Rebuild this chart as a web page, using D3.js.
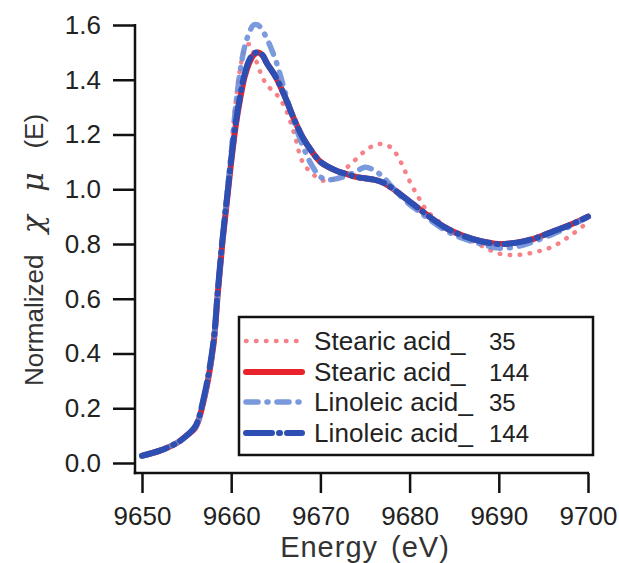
<!DOCTYPE html>
<html>
<head>
<meta charset="utf-8">
<script src="https://cdn.jsdelivr.net/npm/d3@7"></script>
<style>
  html, body { margin: 0; padding: 0; background: #fff; }
  svg { display: block; font-family: "Liberation Sans", Arial, sans-serif; }
</style>
</head>
<body>
<div id="chart"></div>
<script>
// energy grid (eV) shared by all four spectra
var energy = [9650, 9652, 9654, 9655, 9656, 9657, 9658, 9658.5, 9659, 9659.5,
  9660, 9660.5, 9661, 9661.5, 9662, 9662.5, 9663, 9663.5, 9664, 9665,
  9666, 9667, 9668, 9669, 9670, 9671, 9672, 9673, 9674, 9675,
  9676, 9677, 9678, 9679, 9680, 9681, 9682, 9684, 9686, 9688,
  9690, 9692, 9694, 9696, 9698, 9700];

var stearic35 = [0.028, 0.045, 0.075, 0.10, 0.13, 0.24, 0.43, 0.62, 0.80, 0.97,
  1.15, 1.32, 1.44, 1.51, 1.53, 1.50, 1.45, 1.41, 1.38, 1.35,
  1.30, 1.21, 1.10, 1.06, 1.035, 1.03, 1.05, 1.08, 1.11, 1.14,
  1.16, 1.165, 1.15, 1.10, 1.03, 0.97, 0.92, 0.865, 0.83, 0.795,
  0.765, 0.76, 0.77, 0.79, 0.83, 0.88];

var stearic144 = [0.026, 0.045, 0.075, 0.10, 0.13, 0.24, 0.43, 0.62, 0.80, 0.95,
  1.10, 1.23, 1.33, 1.41, 1.46, 1.49, 1.50, 1.49, 1.46, 1.41,
  1.34, 1.26, 1.19, 1.14, 1.10, 1.08, 1.065, 1.055, 1.045, 1.04,
  1.035, 1.025, 1.005, 0.98, 0.955, 0.93, 0.905, 0.86, 0.83, 0.81,
  0.80, 0.805, 0.82, 0.845, 0.87, 0.90];

var linoleic35 = [0.025, 0.045, 0.075, 0.10, 0.13, 0.24, 0.43, 0.62, 0.80, 0.97,
  1.13, 1.30, 1.43, 1.52, 1.57, 1.60, 1.60, 1.58, 1.55, 1.47,
  1.36, 1.25, 1.16, 1.09, 1.045, 1.035, 1.04, 1.05, 1.065, 1.08,
  1.07, 1.045, 1.01, 0.975, 0.945, 0.92, 0.895, 0.85, 0.82, 0.80,
  0.785, 0.79, 0.81, 0.835, 0.865, 0.90];

var linoleic144 = [0.027, 0.045, 0.075, 0.10, 0.135, 0.25, 0.44, 0.63, 0.81, 0.96,
  1.11, 1.24, 1.34, 1.42, 1.47, 1.495, 1.50, 1.49, 1.46, 1.41,
  1.34, 1.26, 1.19, 1.14, 1.10, 1.08, 1.065, 1.055, 1.045, 1.04,
  1.035, 1.025, 1.005, 0.98, 0.955, 0.93, 0.905, 0.86, 0.83, 0.81,
  0.80, 0.805, 0.82, 0.845, 0.87, 0.90];

var seriesNames = ['Stearic acid_', 'Stearic acid_', 'Linoleic acid_', 'Linoleic acid_'];
var seriesTimes = ['35', '144', '35', '144'];
var xTicks = [9650, 9660, 9670, 9680, 9690, 9700];
var yTicks = [0, 0.2, 0.4, 0.6, 0.8, 1.0, 1.2, 1.4, 1.6];

var styles = [
  {color: '#f4737c', width: 4.5, dash: '0.5,9.5', opacity: 0.9},
  {color: '#e8232b', width: 6, dash: null, opacity: 1},
  {color: '#6b8fd9', width: 5.5, dash: '12,9,1,9', opacity: 0.9},
  {color: '#2d4fb3', width: 6, dash: '26,7,1,7', opacity: 1}
];

var width = 619, height = 563;
var svg = d3.select('#chart').append('svg')
  .attr('width', width)
  .attr('height', height);

var x = d3.scaleLinear().domain([9650, 9700]).range([142, 588]);
var y = d3.scaleLinear().domain([0, 1.6]).range([463, 25]);

var axisX = 135, axisY = 473;

// curves
var allSeries = [stearic35, stearic144, linoleic35, linoleic144];
var line = d3.line()
  .x(function(d) { return x(d[0]); })
  .y(function(d) { return y(d[1]); })
  .curve(d3.curveCatmullRom.alpha(0.5));

allSeries.forEach(function(vals, i) {
  var pts = energy.map(function(e, j) { return [e, vals[j]]; });
  var st = styles[i];
  svg.append('path')
    .datum(pts)
    .attr('d', line)
    .attr('fill', 'none')
    .attr('stroke', st.color)
    .attr('stroke-width', st.width)
    .attr('stroke-linecap', 'round')
    .attr('stroke-linejoin', 'round')
    .attr('stroke-dasharray', st.dash)
    .attr('opacity', st.opacity);
});

// axes
var gy = svg.append('g')
  .attr('transform', 'translate(' + axisX + ',0)')
  .call(d3.axisLeft(y).tickValues(yTicks).tickSize(22).tickPadding(12)
    .tickFormat(d3.format('.1f')));
var gx = svg.append('g')
  .attr('transform', 'translate(0,' + axisY + ')')
  .call(d3.axisBottom(x).tickValues(xTicks).tickSize(20).tickPadding(14)
    .tickFormat(d3.format('d')));

[gx, gy].forEach(function(g) {
  g.select('.domain').remove();
  g.selectAll('.tick line').attr('stroke', '#111').attr('stroke-width', 2.5);
  g.selectAll('.tick text')
    .attr('fill', '#222')
    .style('font-size', '26px')
    .style('font-family', '"Liberation Sans", Arial, sans-serif');
});

svg.append('line')
  .attr('x1', axisX).attr('x2', axisX)
  .attr('y1', y(1.6) - 1).attr('y2', axisY + 1.25)
  .attr('stroke', '#111').attr('stroke-width', 2.5);
svg.append('line')
  .attr('x1', axisX - 1.25).attr('x2', x(9700) + 1)
  .attr('y1', axisY).attr('y2', axisY)
  .attr('stroke', '#111').attr('stroke-width', 2.5);

// axis titles
var yTitle = svg.append('text')
  .attr('transform', 'translate(43,250) rotate(-90)')
  .attr('text-anchor', 'middle')
  .attr('fill', '#333')
  .style('font-size', '26px')
  .style('word-spacing', '14px');
yTitle.append('tspan').text('Normalized ');
yTitle.append('tspan')
  .style('font-style', 'italic')
  .style('font-family', '"DejaVu Serif", serif')
  .style('font-size', '30px')
  .text('\u03C7 \u03BC ');
yTitle.append('tspan').text('(E)');

svg.append('text')
  .attr('x', 365)
  .attr('y', 557)
  .attr('text-anchor', 'middle')
  .attr('fill', '#333')
  .style('font-size', '29px')
  .style('letter-spacing', '1px')
  .style('word-spacing', '4px')
  .text('Energy (eV)');

// legend
var legend = svg.append('g');
legend.append('rect')
  .attr('x', 239).attr('y', 317)
  .attr('width', 354).attr('height', 138)
  .attr('fill', '#fff')
  .attr('stroke', '#111')
  .attr('stroke-width', 2.5);

var rowY = [341, 372, 402, 433];
styles.forEach(function(st, i) {
  legend.append('line')
    .attr('x1', 246).attr('x2', 302)
    .attr('y1', rowY[i]).attr('y2', rowY[i])
    .attr('stroke', st.color)
    .attr('stroke-width', st.width)
    .attr('stroke-linecap', 'round')
    .attr('stroke-dasharray', st.dash)
    .attr('opacity', st.opacity);
  legend.append('text')
    .attr('x', 314).attr('y', rowY[i] + 9)
    .attr('fill', '#222')
    .style('font-size', '26px')
    .style('letter-spacing', '0.1px')
    .text(seriesNames[i]);
  legend.append('text')
    .attr('x', 489).attr('y', rowY[i] + 9)
    .attr('fill', '#222')
    .style('font-size', '24px')
    .text(seriesTimes[i]);
});
</script>
</body>
</html>
